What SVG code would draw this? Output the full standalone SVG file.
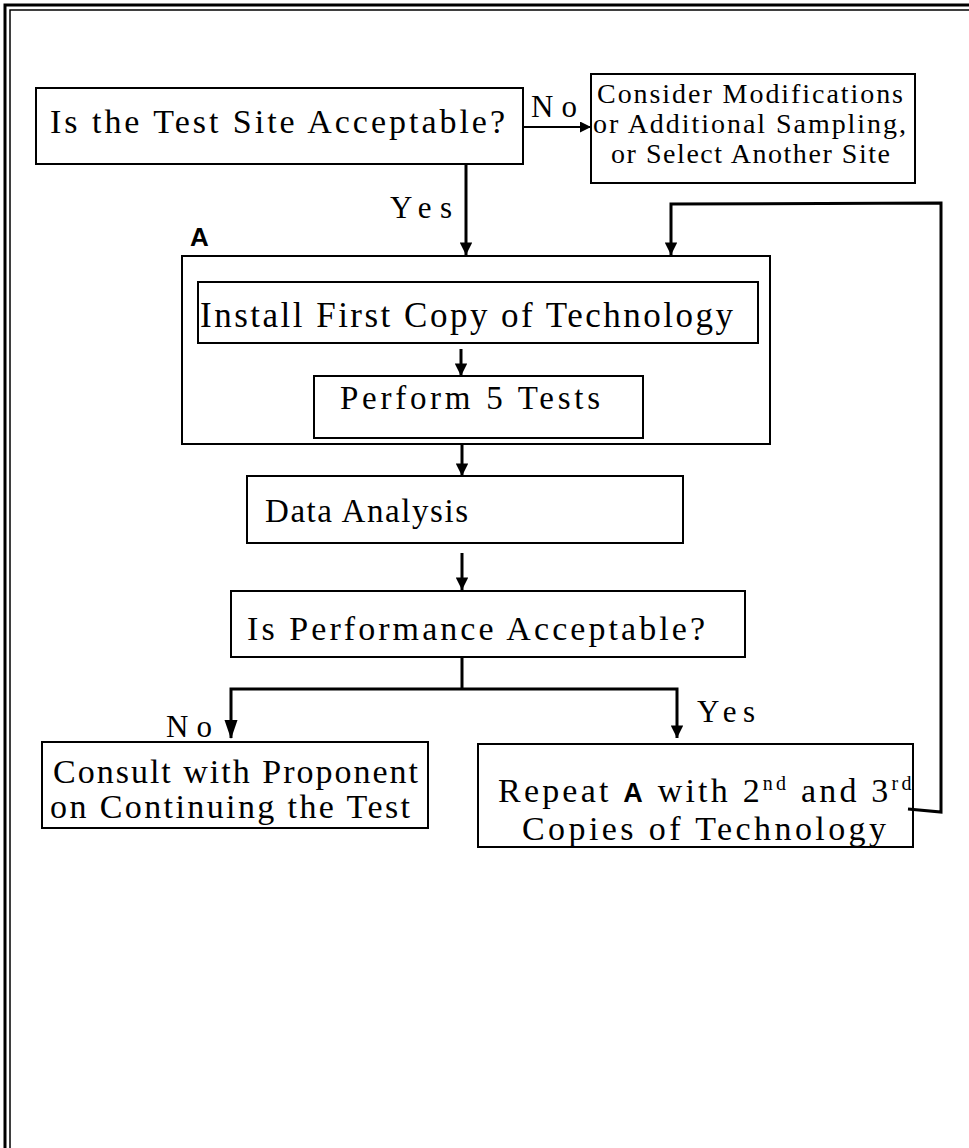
<svg xmlns="http://www.w3.org/2000/svg" width="969" height="1148" viewBox="0 0 969 1148">
<style>
.box{fill:#fff;stroke:#000;stroke-width:2}
.t{font-family:"Liberation Serif","Times New Roman",serif;fill:#000}
.b{font-family:"Liberation Sans",Arial,sans-serif;font-weight:bold;fill:#000}
.ln{fill:none;stroke:#000;stroke-width:3}
.ln2{fill:none;stroke:#000;stroke-width:2}
</style>
<defs>
<marker id="ah" viewBox="0 0 10 10" refX="10" refY="5" markerWidth="4.5" markerHeight="4.2" markerUnits="strokeWidth" orient="auto">
<path d="M0,0 L10,5 L0,10 Z" fill="#000"/>
</marker>
<marker id="ahs" viewBox="0 0 10 10" refX="10" refY="5" markerWidth="8" markerHeight="5.5" markerUnits="strokeWidth" orient="auto">
<path d="M0,0 L10,5 L0,10 Z" fill="#000"/>
</marker>
</defs>
<rect width="969" height="1148" fill="#fff"/>
<g id="border">
<path d="M5,1148 V5 H969" fill="none" stroke="#000" stroke-width="3"/>
<path d="M10,1148 V10 H969" fill="none" stroke="#000" stroke-width="1.5"/>
</g>
<g id="site">
<rect class="box" x="36" y="88" width="487" height="76"/>
<text class="t" x="50" y="133" font-size="34" textLength="455" lengthAdjust="spacing">Is the Test Site Acceptable?</text>
</g>
<g id="consider">
<rect class="box" x="591" y="74" width="324" height="109"/>
<text class="t" x="597" y="103" font-size="28" textLength="306" lengthAdjust="spacing">Consider Modifications</text>
<text class="t" x="593" y="133" font-size="28" textLength="313" lengthAdjust="spacing">or Additional Sampling,</text>
<text class="t" x="611" y="163" font-size="28" textLength="279" lengthAdjust="spacing">or Select Another Site</text>
</g>
<g id="groupA">
<rect class="box" x="182" y="256" width="588" height="188" stroke-width="2.5" fill="none"/>
<text class="b" x="190" y="246" font-size="26">A</text>
</g>
<g id="install">
<rect class="box" x="198" y="282" width="560" height="61"/>
<text class="t" x="200" y="327" font-size="35" textLength="533" lengthAdjust="spacing">Install First Copy of Technology</text>
</g>
<g id="perform">
<rect class="box" x="314" y="376" width="329" height="62"/>
<text class="t" x="340" y="409" font-size="33" textLength="260" lengthAdjust="spacing">Perform 5 Tests</text>
</g>
<g id="data">
<rect class="box" x="247" y="476" width="436" height="67"/>
<text class="t" x="265" y="522" font-size="33" textLength="203" lengthAdjust="spacing">Data Analysis</text>
</g>
<g id="performance">
<rect class="box" x="231" y="591" width="514" height="66"/>
<text class="t" x="247" y="640" font-size="34" textLength="458" lengthAdjust="spacing">Is Performance Acceptable?</text>
</g>
<g id="consult">
<rect class="box" x="42" y="742" width="386" height="86"/>
<text class="t" x="53" y="783" font-size="34" textLength="365" lengthAdjust="spacing">Consult with Proponent</text>
<text class="t" x="50" y="818" font-size="34" textLength="360" lengthAdjust="spacing">on Continuing the Test</text>
</g>
<g id="repeat">
<rect class="box" x="478" y="744" width="435" height="103"/>
<text class="t" font-size="34" y="802" x="498" letter-spacing="3.2">Repeat <tspan class="b" font-size="27">A</tspan> with 2<tspan dy="-12" font-size="20">nd</tspan><tspan dy="12"> and 3</tspan><tspan dy="-12" font-size="20">rd</tspan></text>
<text class="t" x="522" y="840" font-size="34" textLength="364" lengthAdjust="spacing">Copies of Technology</text>
</g>
<g id="connectors">
<line class="ln2" x1="523" y1="127" x2="591" y2="127" marker-end="url(#ahs)"/>
<line class="ln" x1="466" y1="164" x2="466" y2="255" marker-end="url(#ah)"/>
<polyline class="ln" points="908,809 941,812 941,203 671,204 671,255" marker-end="url(#ah)"/>
<line class="ln" x1="461" y1="349" x2="461" y2="376" marker-end="url(#ah)"/>
<line class="ln" x1="462" y1="445" x2="462" y2="476" marker-end="url(#ah)"/>
<line class="ln" x1="462" y1="553" x2="462" y2="590" marker-end="url(#ah)"/>
<line class="ln" x1="462" y1="657" x2="462" y2="689"/>
<polyline class="ln" points="231,738 231,689 677,689 677,738" marker-end="url(#ah)"/>
<path d="M231,739 l-6.5,-19 h13 z" fill="#000"/>
<text class="t" x="531" y="117" font-size="31" textLength="46" lengthAdjust="spacing">No</text>
<text class="t" x="390" y="218" font-size="31" textLength="62" lengthAdjust="spacing">Yes</text>
<text class="t" x="166" y="737" font-size="31" textLength="46" lengthAdjust="spacing">No</text>
<text class="t" x="697" y="722" font-size="31" textLength="58" lengthAdjust="spacing">Yes</text>
</g>
</svg>
